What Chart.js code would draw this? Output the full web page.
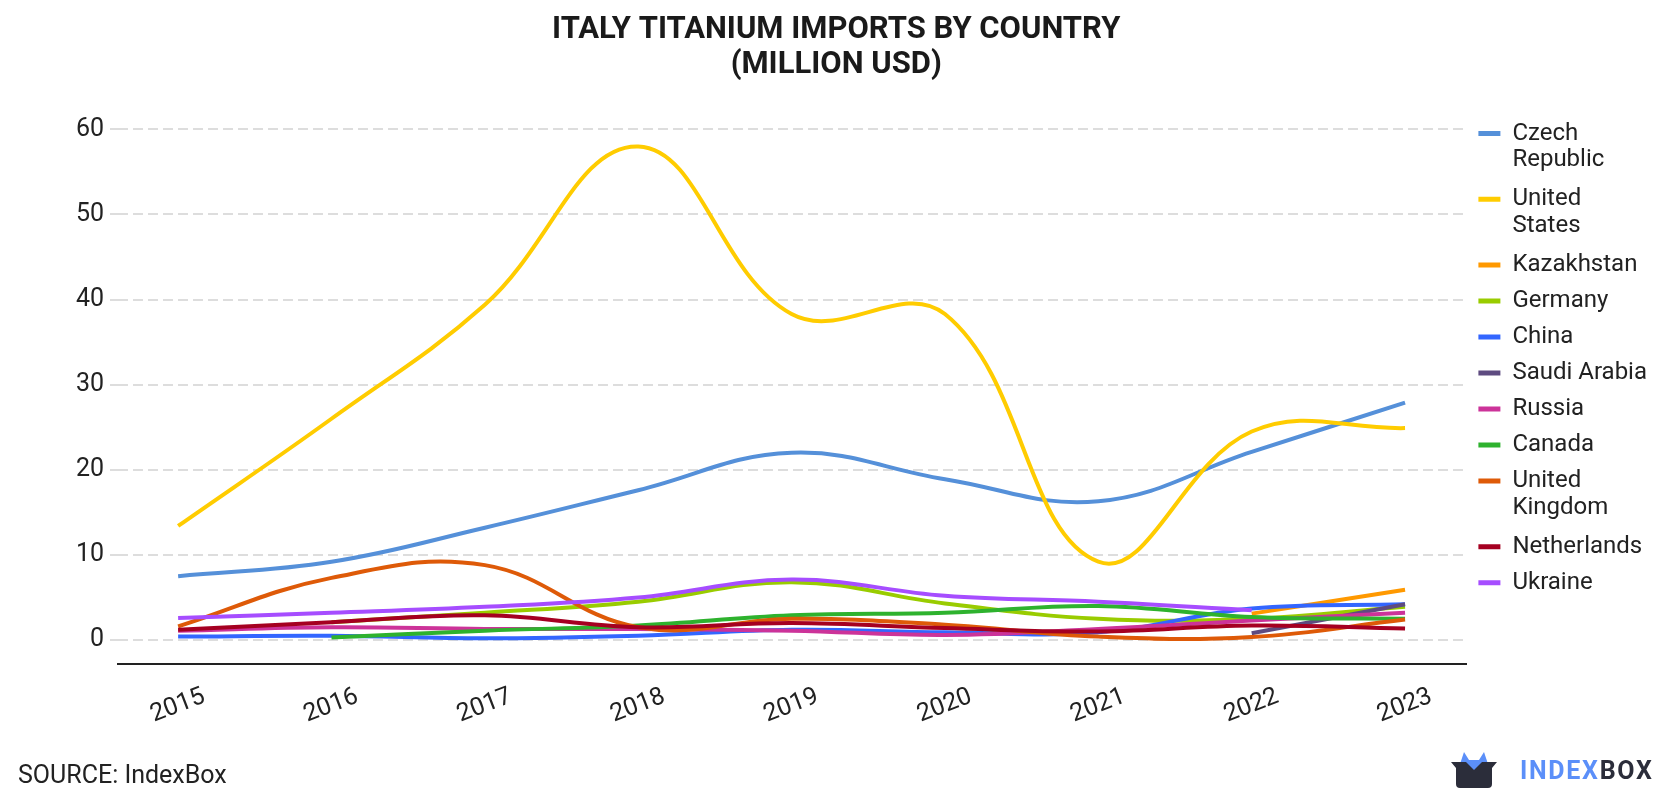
<!DOCTYPE html>
<html>
<head>
<meta charset="utf-8">
<script src="https://cdn.jsdelivr.net/npm/chart.js@4.4.1/dist/chart.umd.min.js"></script>
<style>
    html, body { margin: 0; padding: 0; background: #fff; }
    #wrap { position: relative; width: 1680px; height: 800px; font-family: Roboto, sans-serif; }
    #wrap canvas { position: absolute; left: 0; top: 0; }
    #source { position: absolute; left: 18px; top: 760px; font-size: 25px; color: #222; }
    #logo { position: absolute; left: 1450px; top: 750px; display: flex; align-items: center; }
    #logo span { font-weight: 700; font-size: 25px; letter-spacing: 1.7px; }
</style>
</head>
<body>
<div id="wrap">
    <canvas id="chart-1" width="1680" height="800"></canvas>
    <div id="source">SOURCE: IndexBox</div>
    <div id="logo">
        <svg width="48" height="40" viewBox="0 0 48 40">
            <path d="M10 14 L14 2 L19 10 L29 10 L34 2 L38 14 Z" fill="#5b8ff9"/>
            <path d="M1 12 L47 12 L42 18 L42 34 Q42 38 38 38 L10 38 Q6 38 6 34 L6 18 Z" fill="#2b2d3a"/>
            <path d="M16 12 L24 20 L32 12 Z" fill="#5b8ff9"/>
        </svg>
        <span style="color:#5b8ff9;margin-left:22px">INDEX</span><span style="color:#2b2d3a">BOX</span>
    </div>
</div>
<script>
document.addEventListener('DOMContentLoaded', (event) => {

    const years = [2015, 2016, 2017, 2018, 2019, 2020, 2021, 2022, 2023];

    const czechRepublic = [7.5, 9.2, 13.2, 17.6, 22.0, 18.9, 16.3, 22.1, 27.9];
    const unitedStates  = [13.4, 26.0, 39.4, 58.0, 38.3, 38.3, 9.2, 24.5, 24.9];
    const kazakhstan    = [null, null, null, null, null, null, null, 3.1, 5.9];
    const germany       = [null, 2.1, 3.2, 4.5, 6.8, 4.3, 2.5, 2.5, 3.9];
    const china         = [0.4, 0.5, 0.2, 0.5, 1.2, 0.9, 0.9, 3.7, 4.2];
    const saudiArabia   = [null, null, null, null, null, null, null, 0.8, 4.2];
    const russia        = [1.1, 1.5, 1.3, 1.3, 1.1, 0.6, 1.3, 2.3, 3.2];
    const canada        = [null, 0.3, 1.1, 1.7, 2.9, 3.2, 4.0, 2.7, 2.5];
    const unitedKingdom = [1.6, 7.3, 8.8, 1.5, 2.5, 1.8, 0.4, 0.35, 2.4];
    const netherlands   = [1.2, 2.1, 2.9, 1.5, 2.0, 1.4, 1.0, 1.7, 1.35];
    const ukraine       = [2.6, 3.2, 3.9, 5.0, 7.1, 5.2, 4.5, 3.5, null];

    const yTicks = [0, 10, 20, 30, 40, 50, 60];

    const series = [
        ['Czech Republic', czechRepublic, '#5590d9'],
        ['United States', unitedStates, '#ffcc00'],
        ['Kazakhstan', kazakhstan, '#ff9900'],
        ['Germany', germany, '#99cc00'],
        ['China', china, '#3366ff'],
        ['Saudi Arabia', saudiArabia, '#5e4b80'],
        ['Russia', russia, '#cc3399'],
        ['Canada', canada, '#2eb22e'],
        ['United Kingdom', unitedKingdom, '#de5a08'],
        ['Netherlands', netherlands, '#a50021'],
        ['Ukraine', ukraine, '#a64dff']
    ];

    // later countries sit on top, like the original
    const datasets = series.map((s, i) => ({
        label: s[0],
        data: years.map((y, j) => ({ x: y, y: s[1][j] })),
        borderColor: s[2],
        backgroundColor: s[2],
        borderWidth: 4,
        pointRadius: 0,
        tension: 0.4,
        order: series.length - i
    }));

    const config = {
        type: 'line',
        data: { datasets: datasets },
        options: {
            responsive: false,
            animation: false,
            layout: { padding: { left: 0, right: 23, bottom: 52, top: 0 } },
            plugins: {
                title: {
                    display: true,
                    // leading spaces nudge the centred title to the page centre
                    text: ['  ITALY TITANIUM IMPORTS BY COUNTRY', '  (MILLION USD)'],
                    color: '#1a1a1a',
                    font: { family: 'Roboto', size: 31, weight: 'bold', lineHeight: 1.13 },
                    padding: { top: 13, bottom: 26.5 }
                },
                legend: {
                    position: 'right',
                    align: 'start',
                    fullSize: false,
                    labels: {
                        color: '#222',
                        font: { family: 'Roboto', size: 24, lineHeight: 1.12 },
                        boxWidth: 22,
                        boxHeight: 5,
                        padding: 12,
                        sort: (a, b) => a.datasetIndex - b.datasetIndex,
                        generateLabels: (chart) => Chart.defaults.plugins.legend.labels.generateLabels(chart).map(item => {
                            item.fillStyle = item.strokeStyle;
                            item.lineWidth = 0;
                            if (item.text.length > 12) item.text = item.text.split(' ');
                            return item;
                        })
                    }
                },
                tooltip: { enabled: false }
            },
            scales: {
                x: {
                    type: 'linear',
                    min: 2014.608,
                    max: 2023.4,
                    afterBuildTicks: (scale) => { scale.ticks = years.map(y => ({ value: y })); },
                    ticks: {
                        color: '#222',
                        font: { family: 'Roboto', size: 25 },
                        minRotation: 21,
                        maxRotation: 21,
                        labelOffset: 26,
                        padding: 18,
                        callback: (v) => String(v)
                    },
                    grid: { drawOnChartArea: false, drawTicks: false },
                    border: { display: true, color: '#222', width: 2 }
                },
                y: {
                    min: -2.8,
                    max: 62.33,
                    afterBuildTicks: (scale) => { scale.ticks = yTicks.map(v => ({ value: v })); },
                    afterFit: (scale) => { scale.width = 118; },
                    ticks: {
                        color: '#222',
                        font: { family: 'Roboto', size: 25 },
                        padding: 6
                    },
                    grid: {
                        color: '#dddddd',
                        lineWidth: 2,
                        tickLength: 8,
                        borderDash: [10, 5]
                    },
                    border: { display: false, dash: [10, 5] }
                }
            }
        }
    };

    const ctx = document.getElementById('chart-1').getContext('2d');
    new Chart(ctx, config);
});
</script>
</body>
</html>
